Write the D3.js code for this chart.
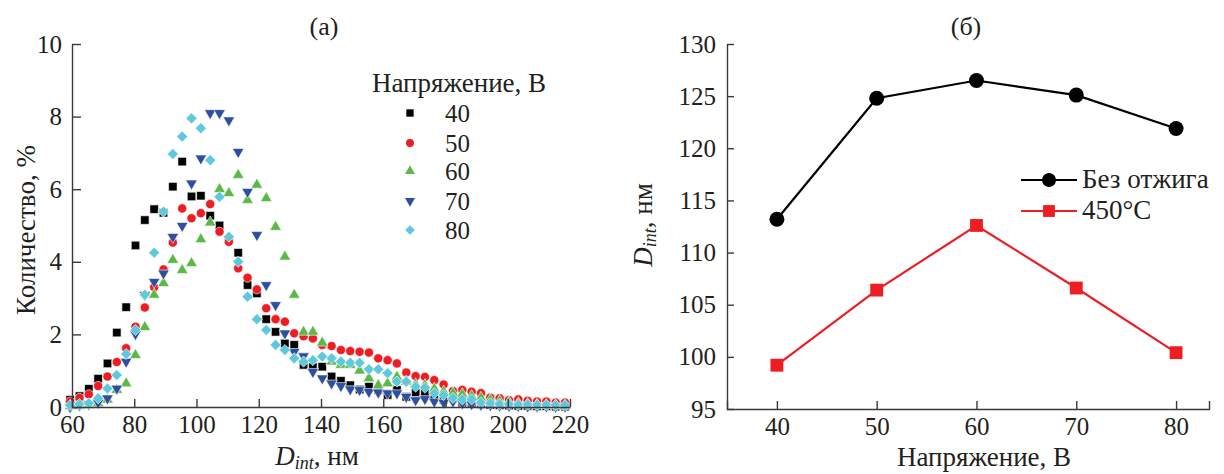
<!DOCTYPE html>
<html>
<head>
<meta charset="utf-8">
<script src="https://cdn.jsdelivr.net/npm/d3@7"></script>
<style>
  body { margin: 0; background: #fff; }
  svg text { font-family: "Liberation Serif"; fill: #231f20; }
</style>
</head>
<body>
<script>
// (а) size distribution, bin centres in nm
const dBins = [59.4, 62.4, 65.4, 68.4, 71.4, 74.4, 77.4, 80.4, 83.4, 86.4,
  89.4, 92.4, 95.4, 98.4, 101.4, 104.4, 107.4, 110.4, 113.4, 116.4,
  119.4, 122.4, 125.4, 128.4, 131.4, 134.4, 137.4, 140.4, 143.4, 146.4,
  149.4, 152.4, 155.4, 158.4, 161.4, 164.4, 167.4, 170.4, 173.4, 176.4,
  179.4, 182.4, 185.4, 188.4, 191.4, 194.4, 197.4, 200.4, 203.4, 206.4,
  209.4, 212.4, 215.4, 218.4];
const count40 = [0.2, 0.3, 0.5, 0.78, 1.2, 2.05, 2.75, 4.45, 5.15, 5.45,
  5.35, 6.07, 6.76, 5.8, 5.82, 5.27, 5.0, 4.6, 4.25, 3.36,
  3.13, 2.42, 2.07, 1.75, 1.71, 1.16, 1.1, 1.11, 0.84, 0.72,
  0.6, 0.48, 0.56, 0.47, 0.33, 0.47, 0.28, 0.4, 0.38, 0.3,
  0.2, 0.25, 0.12, 0.1, 0.08, 0.06, 0.05, 0.04, 0.03, 0.03,
  0.02, 0.02, 0.01, 0.01];
const count50 = [0.15, 0.25, 0.35, 0.58, 0.84, 1.24, 1.62, 2.21, 2.74, 3.3,
  3.79, 4.53, 5.47, 5.2, 5.34, 5.59, 4.83, 4.55, 3.82, 3.56,
  3.24, 2.72, 2.42, 2.35, 2.03, 1.95, 1.89, 1.71, 1.68, 1.57,
  1.54, 1.52, 1.5, 1.34, 1.29, 1.2, 0.95, 0.85, 0.83, 0.74,
  0.62, 0.44, 0.47, 0.42, 0.38, 0.26, 0.24, 0.19, 0.21, 0.17,
  0.15, 0.15, 0.12, 0.12];
const count60 = [0.02, 0.03, 0.05, 0.1, 0.2, 0.47, 0.65, 1.43, 2.2, 3.09,
  3.41, 4.05, 3.77, 3.96, 4.62, 5.08, 6.0, 5.89, 6.39, 5.7,
  6.12, 5.75, 4.96, 4.14, 3.09, 2.07, 2.07, 1.77, 1.25, 1.16,
  1.16, 1.0, 0.79, 0.6, 0.65, 0.83, 0.7, 0.62, 0.6, 0.5,
  0.42, 0.38, 0.35, 0.3, 0.25, 0.2, 0.16, 0.13, 0.1, 0.08,
  0.06, 0.05, 0.04, 0.03];
const count70 = [0.0, 0.05, 0.08, 0.12, 0.24, 0.51, 1.25, 2.01, 3.09, 3.45,
  3.68, 4.69, 4.99, 6.16, 6.85, 8.1, 8.1, 7.9, 7.03, 5.93,
  4.74, 3.36, 2.81, 2.03, 1.52, 1.4, 0.97, 0.79, 0.65, 0.58,
  0.49, 0.47, 0.42, 0.4, 0.38, 0.38, 0.28, 0.19, 0.22, 0.15,
  0.12, 0.15, 0.1, 0.08, 0.06, 0.05, 0.04, 0.03, 0.03, 0.02,
  0.02, 0.02, 0.01, 0.01];
const count80 = [0.05, 0.08, 0.1, 0.24, 0.51, 0.88, 1.46, 2.12, 3.09, 4.25,
  5.38, 6.97, 7.45, 7.95, 7.68, 6.8, 5.79, 4.69, 4.0, 3.04,
  2.42, 2.12, 1.71, 1.57, 1.34, 1.25, 1.29, 1.39, 1.34, 1.25,
  1.22, 1.22, 1.04, 1.04, 0.93, 0.7, 0.7, 0.56, 0.53, 0.38,
  0.33, 0.25, 0.21, 0.21, 0.12, 0.1, 0.08, 0.08, 0.07, 0.07,
  0.06, 0.06, 0.05, 0.05];
const seriesNames = ['40', '50', '60', '70', '80'];
const xTicksA = [60, 80, 100, 120, 140, 160, 180, 200, 220];
const yTicksA = [0, 2, 4, 6, 8, 10];

// (б) mean diameter vs voltage
const voltages = [40, 50, 60, 70, 80];
const noAnneal = [113.2, 124.8, 126.5, 125.1, 121.9];
const anneal450 = [99.2, 106.4, 112.6, 106.6, 100.4];
const xTicksB = [40, 50, 60, 70, 80];
const yTicksB = [95, 100, 105, 110, 115, 120, 125, 130];

const FONT = '"Liberation Serif"';
const FS_TICK = 25;
const FS_WORD = 27;

const svg = d3.select('body').append('svg')
  .attr('width', 1224)
  .attr('height', 474);

function label(x, y, txt, size, anchor) {
  return svg.append('text')
    .attr('x', x).attr('y', y)
    .attr('text-anchor', anchor || 'start')
    .attr('font-size', size)
    .style('font-family', FONT)
    .text(txt);
}

const axisColor = '#3a3a3a';
function styleAxis(g) {
  g.attr('font-family', null);
  g.select('.domain').attr('stroke', axisColor).attr('stroke-width', 1.4);
  g.selectAll('.tick line').attr('stroke', axisColor).attr('stroke-width', 1.4);
  g.selectAll('.tick text').attr('font-size', FS_TICK).attr('fill', '#231f20')
    .style('font-family', FONT);
}

// ---------- panel (а) ----------
const xA = d3.scaleLinear().domain([60, 220]).range([72, 570]);
const yA = d3.scaleLinear().domain([0, 10]).range([407, 44]);

const markerDefs = [
  { color: '#000000', type: d3.symbolSquare, rot: 0, size: 72 },
  { color: '#ee1d23', type: d3.symbolCircle, rot: 0, size: 66 },
  { color: '#5cb947', type: d3.symbolTriangle, rot: 0, size: 58 },
  { color: '#2e4f9f', type: d3.symbolTriangle, rot: 180, size: 58 },
  { color: '#5ec9dc', type: d3.symbolSquare, rot: 45, size: 62 }
];
const seriesValues = [count40, count50, count60, count70, count80];

seriesValues.forEach((vals, s) => {
  const m = markerDefs[s];
  svg.append('g')
    .selectAll('path')
    .data(dBins.map((d, i) => [d, vals[i]]))
    .join('path')
    .attr('d', d3.symbol(m.type, m.size))
    .attr('transform', d => `translate(${xA(d[0])},${yA(d[1])}) rotate(${m.rot})`)
    .attr('fill', m.color)
    .attr('stroke', '#fff')
    .attr('stroke-width', 0.6);
});

svg.append('g')
  .attr('transform', `translate(0,${yA(0)})`)
  .call(d3.axisBottom(xA).tickValues(xTicksA).tickSize(-8).tickSizeOuter(0).tickPadding(8))
  .call(styleAxis);

svg.append('g')
  .attr('transform', `translate(${xA(60)},0)`)
  .call(d3.axisLeft(yA).tickValues(yTicksA).tickSize(-9).tickSizeOuter(0).tickPadding(10))
  .call(styleAxis);

label(324, 35, '(а)', 26, 'middle');

label(0, 0, 'Количество, %', FS_WORD, 'middle')
  .attr('transform', 'translate(35,230) rotate(-90)');

const xlabA = label(317, 465, null, FS_WORD, 'middle');
xlabA.append('tspan').attr('font-style', 'italic').text('D');
xlabA.append('tspan').attr('font-style', 'italic').attr('font-size', 18).attr('dy', 4).text('int');
xlabA.append('tspan').attr('dy', -4).text(', нм');

// legend (а)
label(459, 92, 'Напряжение, В', FS_WORD, 'middle');

const legRows = [113, 143, 171, 201, 230];
seriesNames.forEach((name, s) => {
  const m = markerDefs[s];
  svg.append('path')
    .attr('d', d3.symbol(m.type, m.size * 0.75))
    .attr('transform', `translate(410,${legRows[s]}) rotate(${m.rot})`)
    .attr('fill', m.color);
  label(445, legRows[s] + 9, name, FS_TICK);
});

// ---------- panel (б) ----------
const xB = d3.scaleLinear().domain([35, 83.3]).range([727, 1209]);
const yB = d3.scaleLinear().domain([95, 130]).range([409, 44]);

svg.append('g')
  .attr('transform', `translate(0,${yB(95)})`)
  .call(d3.axisBottom(xB).tickValues(xTicksB).tickSize(-8).tickSizeOuter(-8).tickPadding(8))
  .call(styleAxis);

svg.append('g')
  .attr('transform', `translate(${xB(35)},0)`)
  .call(d3.axisLeft(yB).tickValues(yTicksB).tickSize(-7).tickSizeOuter(0).tickPadding(11))
  .call(styleAxis);

const lineB = d3.line().x(d => xB(d[0])).y(d => yB(d[1]));
const blackPts = voltages.map((v, i) => [v, noAnneal[i]]);
const redPts = voltages.map((v, i) => [v, anneal450[i]]);

svg.append('path').attr('d', lineB(blackPts))
  .attr('fill', 'none').attr('stroke', '#000').attr('stroke-width', 2.2);
svg.append('path').attr('d', lineB(redPts))
  .attr('fill', 'none').attr('stroke', '#ee1d23').attr('stroke-width', 2.2);

svg.append('g').selectAll('circle').data(blackPts).join('circle')
  .attr('cx', d => xB(d[0])).attr('cy', d => yB(d[1])).attr('r', 7.5)
  .attr('fill', '#000');
svg.append('g').selectAll('path').data(redPts).join('path')
  .attr('d', d3.symbol(d3.symbolSquare, 165))
  .attr('transform', d => `translate(${xB(d[0])},${yB(d[1])})`)
  .attr('fill', '#ee1d23');

label(966, 35, '(б)', 26, 'middle');

const ylabB = label(0, 0, null, FS_WORD, 'middle')
  .attr('transform', 'translate(652,225) rotate(-90)');
ylabB.append('tspan').attr('font-style', 'italic').text('D');
ylabB.append('tspan').attr('font-style', 'italic').attr('font-size', 18).attr('dy', 4).text('int');
ylabB.append('tspan').attr('dy', -4).text(', нм');

label(984, 466, 'Напряжение, В', FS_WORD, 'middle');

// legend (б)
const legB = [
  { label: 'Без отжига', color: '#000', y: 180, circle: true },
  { label: '450°C', color: '#ee1d23', y: 211, circle: false }
];
legB.forEach(l => {
  svg.append('line')
    .attr('x1', 1021).attr('x2', 1077).attr('y1', l.y).attr('y2', l.y)
    .attr('stroke', l.color).attr('stroke-width', 2.2);
  if (l.circle) {
    svg.append('circle').attr('cx', 1049).attr('cy', l.y).attr('r', 7).attr('fill', l.color);
  } else {
    svg.append('path').attr('d', d3.symbol(d3.symbolSquare, 140))
      .attr('transform', `translate(1049,${l.y})`).attr('fill', l.color);
  }
  label(1082, l.y + 8, l.label, FS_WORD);
});
</script>
</body>
</html>
